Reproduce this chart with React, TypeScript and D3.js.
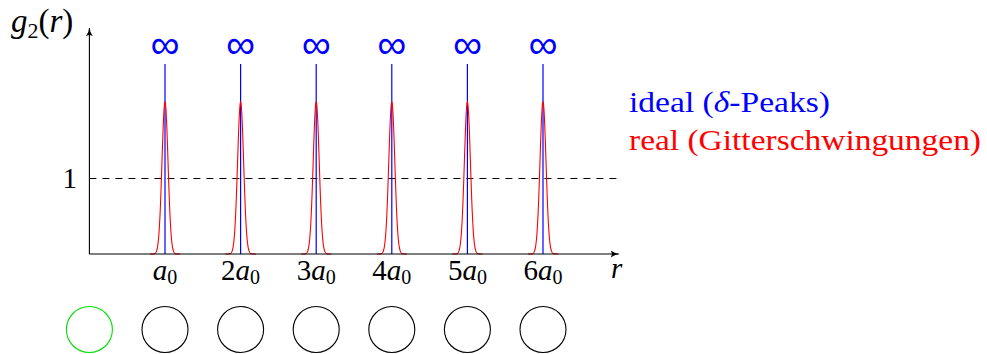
import React from "react";
import * as d3 from "d3";

// Lattice positions in units of a0 (peak positions of g2(r))
const shells = [1, 2, 3, 4, 5, 6];
const tickDigits = ["", "2", "3", "4", "5", "6"];
// Atom chain below the axis: index 0 is the reference atom
const atoms = [0, 1, 2, 3, 4, 5, 6];

const meanLevel = 1; // g2 -> 1 for a disordered background
const idealTop = 2.5; // delta peaks drawn up to here, labelled ∞
const realPeak = 2.0; // height of the thermally broadened peaks
const realSigma = 0.04; // width of the broadened peaks (units of a0)
const realHalfRange = 0.2; // each broadened peak is drawn over ±0.2 a0

const W = 987;
const H = 354;
const serif = '"Liberation Serif", "DejaVu Serif", serif';

export default function App() {
  const x = d3.scaleLinear().domain([0, 7]).range([89.4, 618.6]);
  const y = d3.scaleLinear().domain([0, 3]).range([254, 26]);

  const line = d3
    .line<[number, number]>()
    .x((d) => x(d[0]))
    .y((d) => y(d[1]));

  const realPaths = shells.map((c) => {
    const pts: [number, number][] = d3
      .range(-realHalfRange, realHalfRange + 1e-9, 0.004)
      .map((dx) => [c + dx, realPeak * Math.exp(-(dx * dx) / (2 * realSigma * realSigma))]);
    return line(pts) as string;
  });

  const xEnd = x(7);
  const yTop = y(2.97);
  const txt = { fontFamily: serif } as React.CSSProperties;

  return (
    <div style={{ position: "absolute", left: 0, top: 0 }}>
      <svg width={W} height={H} style={{ display: "block", background: "#fff" }}>
        <defs>
          <marker
            id="arr"
            viewBox="0 0 10 10"
            refX="9"
            refY="5"
            markerWidth="9"
            markerHeight="9"
            markerUnits="userSpaceOnUse"
            orient="auto"
          >
            <path d="M0,1 Q5,4.5 10,5 Q5,5.5 0,9 Q3,5 0,1 Z" fill="#000" />
          </marker>
        </defs>

        {/* mean level g2 = 1 */}
        <line
          x1={x(0)}
          x2={xEnd}
          y1={y(meanLevel) + 0.5}
          y2={y(meanLevel) + 0.5}
          stroke="#000"
          strokeWidth={1.1}
          strokeDasharray="7 6"
        />

        {/* ideal delta peaks */}
        {shells.map((c) => (
          <line
            key={"d" + c}
            x1={x(c)}
            x2={x(c)}
            y1={y(0)}
            y2={y(idealTop)}
            stroke="#0000ff"
            strokeWidth={1.2}
          />
        ))}

        {/* broadened peaks */}
        {realPaths.map((d, i) => (
          <path key={"r" + i} d={d} fill="none" stroke="#ff0000" strokeWidth={1.1} />
        ))}

        {/* axes */}
        <line x1={x(0)} x2={xEnd} y1={y(0)} y2={y(0)} stroke="#000" strokeWidth={1.1} markerEnd="url(#arr)" />
        <line x1={x(0)} x2={x(0)} y1={y(0)} y2={yTop} stroke="#000" strokeWidth={1.1} markerEnd="url(#arr)" />

        {/* infinity labels */}
        {shells.map((c) => (
          <text
            key={"inf" + c}
            x={x(c)}
            y={58}
            textAnchor="middle"
            style={{ fontFamily: '"DejaVu Sans", sans-serif' }}
            fontSize={40}
            fontWeight={200}
            fill="#0000ff"
            textLength={29}
            lengthAdjust="spacingAndGlyphs"
          >
            ∞
          </text>
        ))}

        {/* axis labels */}
        <text x={11} y={32} style={txt} fontSize={33} fill="#000">
          <tspan fontStyle="italic">g</tspan>
          <tspan fontSize={22} dy={6}>2</tspan>
          <tspan dy={-6}>(</tspan>
          <tspan fontStyle="italic">r</tspan>
          <tspan>)</tspan>
        </text>
        <text x={611} y={278} style={txt} fontSize={29} fontStyle="italic" fill="#000">
          r
        </text>
        <text x={77} y={188} textAnchor="end" style={txt} fontSize={29} fill="#000">
          1
        </text>

        {/* tick labels n·a0 */}
        {shells.map((c, i) => (
          <text
            key={"t" + c}
            x={x(c)}
            y={280}
            textAnchor="middle"
            style={txt}
            fontSize={29}
            fill="#000"
          >
            {tickDigits[i] && <tspan>{tickDigits[i]}</tspan>}
            <tspan fontStyle="italic">a</tspan>
            <tspan fontSize={20} dy={4}>0</tspan>
          </text>
        ))}

        {/* legend */}
        <text x={629} y={112} style={txt} fontSize={30} fill="#0000ff" textLength={201} lengthAdjust="spacingAndGlyphs">
          ideal (<tspan fontStyle="italic">δ</tspan>-Peaks)
        </text>
        <text x={629} y={150} style={txt} fontSize={30} fill="#ff0000" textLength={352} lengthAdjust="spacingAndGlyphs">
          real (Gitterschwingungen)
        </text>

        {/* atom chain */}
        {atoms.map((a) => (
          <circle
            key={"a" + a}
            cx={x(a)}
            cy={329.5}
            r={23}
            fill="none"
            stroke={a === 0 ? "#00e000" : "#000"}
            strokeWidth={1.1}
          />
        ))}
      </svg>
    </div>
  );
}
